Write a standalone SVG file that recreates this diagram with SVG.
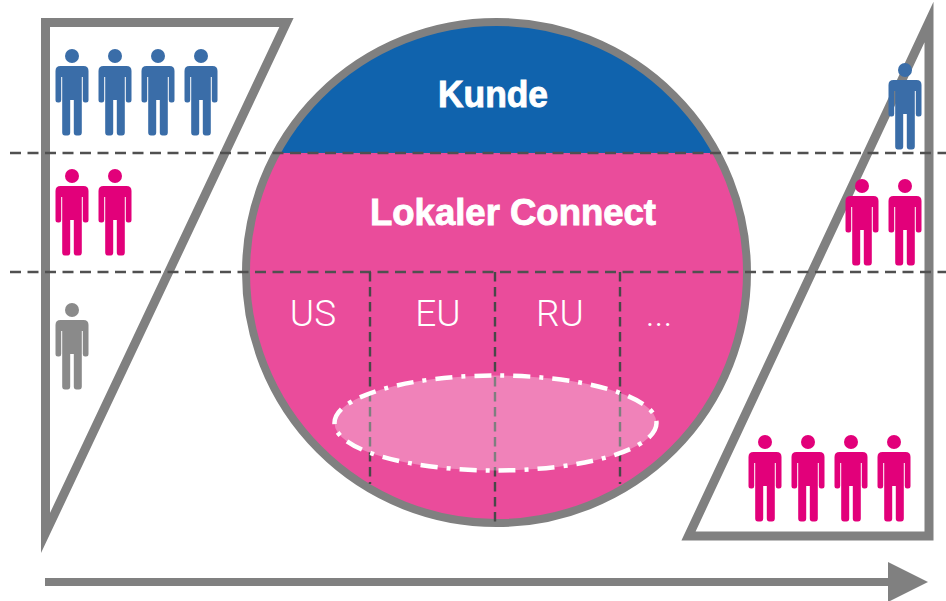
<svg xmlns="http://www.w3.org/2000/svg" xmlns:xlink="http://www.w3.org/1999/xlink" width="946" height="601" viewBox="0 0 946 601">
<style>
.frame{fill:none;stroke:#808080;stroke-width:9;stroke-miterlimit:20}
.dash{fill:none;stroke:#505050;stroke-width:2.400;stroke-dasharray:11 6.500}
.vdash{fill:none;stroke:#484848;stroke-width:2.400;stroke-dasharray:9.500 5.500}
.b{font-family:"Liberation Sans",Arial,sans-serif;font-weight:700;font-size:36px;fill:#fff;stroke:#fff;stroke-width:0.900;text-anchor:middle}
.r{font-family:"Roboto",sans-serif;font-weight:300;font-size:37px;fill:#fff;text-anchor:middle}
.blue{fill:#3a6da8}.pink{fill:#e2007a}.gray{fill:#8a8a8a}
</style>
<defs>
<g id="person">
<circle cx="0" cy="-1" r="7"/>
<path d="M-11.500 9H11.500Q16.500 9 16.500 14V43Q16.500 45.500 14 45.500H13Q10.800 45.500 10.800 43V20H9.800V75.500Q9.800 78.500 7 78.500H4.500Q1.800 78.500 1.800 75.500V43H-1.800V75.500Q-1.800 78.500 -4.500 78.500H-7Q-9.800 78.500 -9.800 75.500V20H-10.800V43Q-10.800 45.500 -13 45.500H-14Q-16.500 45.500 -16.500 43V14Q-16.500 9 -11.500 9Z"/>
</g>
</defs>
<g id="left-trapezoid"><path class="frame" d="M45.500 22.500H286.500L45.500 533Z"/></g>
<g id="right-trapezoid"><path class="frame" d="M929 22V536H688.500Z"/></g>
<g id="circle-node">
<circle cx="496.500" cy="272.500" r="250.500" fill="#ea4c9b"/>
<path d="M278 153A250.500 250.500 0 0 1 715 153Z" fill="#1063ad"/>
<circle cx="496.500" cy="272.500" r="250.500" fill="none" stroke="#808080" stroke-width="8"/>
<text class="b" x="493" y="107" textLength="110" lengthAdjust="spacingAndGlyphs">Kunde</text>
<text class="b" x="513" y="225" textLength="286" lengthAdjust="spacingAndGlyphs">Lokaler Connect</text>
<text class="r" x="313" y="326">US</text>
<text class="r" x="438" y="326">EU</text>
<text class="r" x="560" y="326">RU</text>
<text class="r" x="659" y="326">...</text>
</g>
<g id="connectors">
<path class="dash" d="M10 153H946M10 272H946"/>
<path class="vdash" d="M370 272V484M495 272V523M620 272V484"/>
<path d="M45 578H888V562L928 582L888 602V586H45Z" fill="#808080"/>
</g>
<g id="highlight"><ellipse cx="495.500" cy="423" rx="161" ry="47.500" fill="#fff" fill-opacity="0.3" stroke="#fff" stroke-width="4.500" stroke-dasharray="17 9 4 9"/></g>
<g id="people-left">
<use xlink:href="#person" href="#person" x="72" y="57" class="blue"/>
<use xlink:href="#person" href="#person" x="115" y="57" class="blue"/>
<use xlink:href="#person" href="#person" x="158" y="57" class="blue"/>
<use xlink:href="#person" href="#person" x="201" y="57" class="blue"/>
<use xlink:href="#person" href="#person" x="72" y="177" class="pink"/>
<use xlink:href="#person" href="#person" x="115" y="177" class="pink"/>
<use xlink:href="#person" href="#person" x="72" y="311" class="gray"/>
</g>
<g id="people-right">
<use xlink:href="#person" href="#person" x="905" y="71" class="blue"/>
<use xlink:href="#person" href="#person" x="862" y="187" class="pink"/>
<use xlink:href="#person" href="#person" x="905" y="187" class="pink"/>
<use xlink:href="#person" href="#person" x="765" y="443" class="pink"/>
<use xlink:href="#person" href="#person" x="808" y="443" class="pink"/>
<use xlink:href="#person" href="#person" x="851" y="443" class="pink"/>
<use xlink:href="#person" href="#person" x="894" y="443" class="pink"/>
</g>
</svg>
